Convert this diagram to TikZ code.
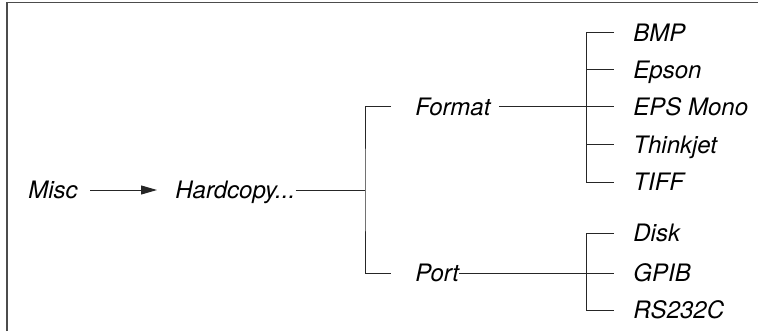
\documentclass[tikz,border=0pt]{standalone}
\usepackage{fontspec}
\setmainfont{TeX Gyre Heros}
\usepackage{tikz}
\usetikzlibrary{arrows.meta,positioning}

\begin{document}
\begin{tikzpicture}[
    x=0.5pt,y=-0.5pt,
    item/.style={font=\itshape\fontsize{12}{14}\selectfont,anchor=west,
      inner sep=0pt,text height=8.6pt,text depth=0pt},
    link/.style={line width=0.5pt,black!85},
    flow/.style={-{Triangle[length=8pt,width=4.5pt]},line width=0.5pt,black!85}
  ]
    \useasboundingbox (0,0) rectangle (758,331);
    \draw[line width=0.7pt,black!70] (7,331) -- (7,2.5) -- (758,2.5);
    \node[item] (misc) at (28,190) {Misc};
    \node[item] (hard) at (175,190) {Hardcopy...};
    \node[item] (fmt) at (415,107) {Format};
    \node[item] (port) at (415,273) {Port};
    \node[item] (bmp) at (633,33) {BMP};
    \node[item] (epson) at (633,70) {Epson};
    \node[item] (mono) at (633,107) {EPS Mono};
    \node[item] (thinkjet) at (633,145) {Thinkjet};
    \node[item] (tiff) at (633,182) {TIFF};
    \node[item] (disk) at (633,233) {Disk};
    \node[item] (gpib) at (633,273) {GPIB};
    \node[item] (rs) at (633,310) {RS232C};
    \coordinate (hub) at (365,190);
    \coordinate (fmtbar) at (586,107);
    \coordinate (portbar) at (586,273);
    \draw[flow,shorten <=6pt,shorten >=9pt] (misc) -- (hard);
    \draw[link] (hard.east) -- (hub);
    \draw[link] ([xshift=-12pt]fmt.west) -| (hub) |- ([xshift=-12pt]port.west);
    % format branch
    \draw[link] ([xshift=4pt]fmt.east) -- ([xshift=-9.5pt]mono.west);
    \draw[link] ([xshift=-9.5pt]bmp.west) -| (fmtbar) |- ([xshift=-9.5pt]tiff.west);
    \foreach \n in {epson,thinkjet}
      \draw[link] (fmtbar |- \n) -- ([xshift=-9.5pt]\n.west);
    % port branch
    \draw[link] (port.east) -- ([xshift=-9.5pt]gpib.west);
    \draw[link] ([xshift=-9.5pt]disk.west) -| (portbar) |- ([xshift=-9.5pt]rs.west);
  \end{tikzpicture}
\end{document}
